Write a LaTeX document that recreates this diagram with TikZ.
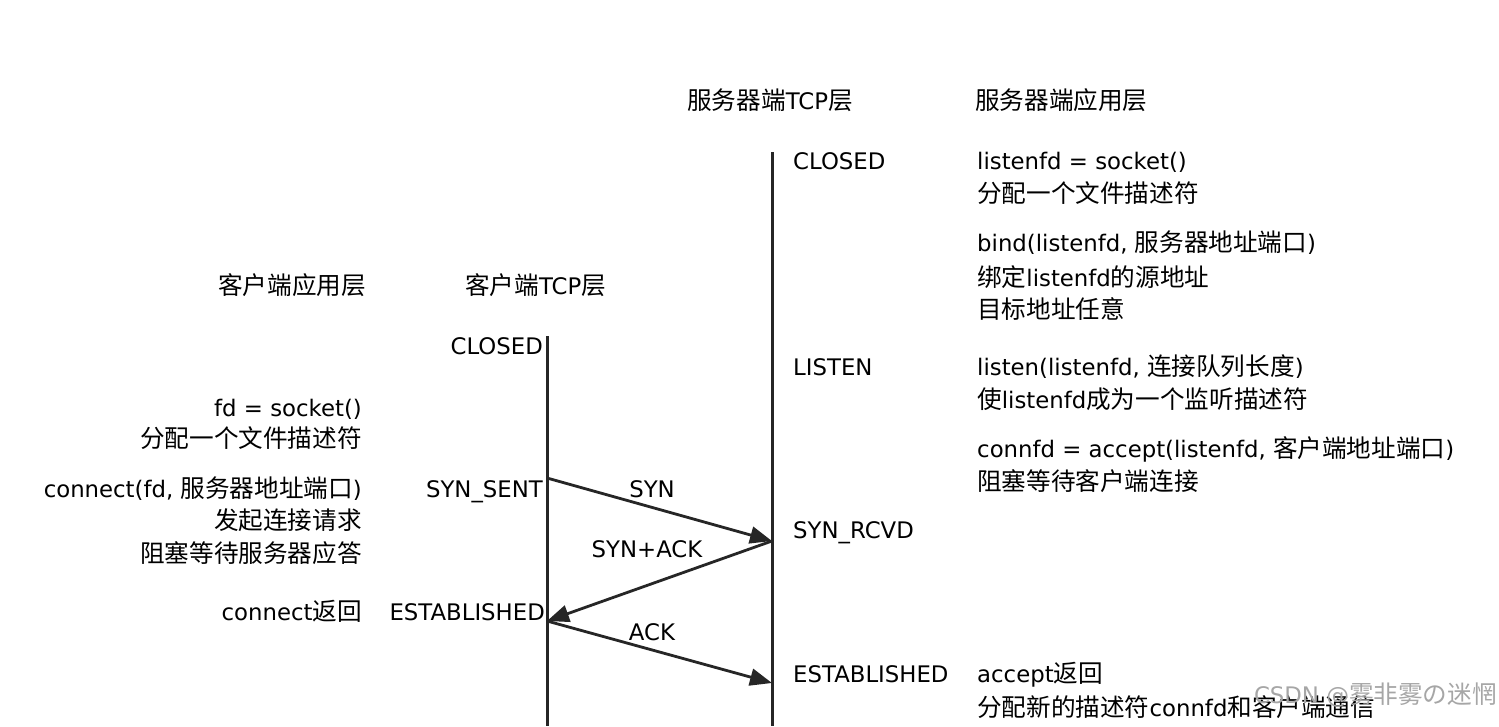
\documentclass[tikz,border=0pt]{standalone}
\usepackage{fontspec}
\setmainfont{DejaVu Sans}
\newfontfamily\cjk[Scale=1.08]{Noto Sans CJK SC}
\newcommand\zh[1]{{\cjk #1}}
\usetikzlibrary{arrows.meta}
\begin{document}
\begin{tikzpicture}[x=1pt,y=-1pt,
  txt/.style={inner sep=0pt,text height=17pt,text depth=5pt,font=\fontsize{22.8}{27}\selectfont},
  lt/.style={txt,anchor=west},
  rt/.style={txt,anchor=east},
  ct/.style={txt,anchor=center},
  life/.style={line width=3pt,black!85},
  msg/.style={line width=2.8pt,black!85,-{Triangle[length=22pt,width=17pt]}}]
\useasboundingbox (0,0) rectangle (1499,726);
% headers
\node[ct] (hst) at (770,103) {\zh{服务器端}TCP\zh{层}};
\node[lt] (hsa) at (975,103) {\zh{服务器端应用层}};
\node[lt] (hca) at (218,288) {\zh{客户端应用层}};
\node[lt] (hct) at (465,288) {\zh{客户端}TCP\zh{层}};
% lifelines
\coordinate (stop) at (772,152);
\coordinate (sbot) at (772,726);
\coordinate (ctop) at (547,336);
\coordinate (cbot) at (547,726);
\draw[life] (stop) -- (sbot);
\draw[life] (ctop) -- (cbot);
% server states
\node[lt] (sclosed) at (793,163) {CLOSED};
\node[lt] (slisten) at (793,369) {LISTEN};
\node[lt] (srcvd) at (793,532) {SYN\_RCVD};
\node[lt] (sest) at (793,676) {ESTABLISHED};
% server app
\node[lt] (a1) at (977,163) {listenfd = socket()};
\node[lt] (a2) at (977,196) {\zh{分配一个文件描述符}};
\node[lt] (a3) at (977,245) {bind(listenfd, \zh{服务器地址端口})};
\node[lt] (a4) at (977,280) {\zh{绑定}listenfd\zh{的源地址}};
\node[lt] (a5) at (977,312) {\zh{目标地址任意}};
\node[lt] (a6) at (977,369) {listen(listenfd, \zh{连接队列长度})};
\node[lt] (a7) at (977,402) {\zh{使}listenfd\zh{成为一个监听描述符}};
\node[lt] (a8) at (977,451) {connfd = accept(listenfd, \zh{客户端地址端口})};
\node[lt] (a9) at (977,484) {\zh{阻塞等待客户端连接}};
\node[lt] (a10) at (977,676) {accept\zh{返回}};
\node[lt] (a11) at (977,710) {\zh{分配新的描述符}connfd\zh{和客户端通信}};
% client states
\node[rt] (cclosed) at (543,348) {CLOSED};
\node[rt] (csent) at (543,491) {SYN\_SENT};
\node[rt] (cest) at (545,614) {ESTABLISHED};
% client app
\node[rt] (b1) at (362,410) {fd = socket()};
\node[rt] (b2) at (362,441) {\zh{分配一个文件描述符}};
\node[rt] (b3) at (362,491) {connect(fd, \zh{服务器地址端口})};
\node[rt] (b4) at (362,523) {\zh{发起连接请求}};
\node[rt] (b5) at (362,556) {\zh{阻塞等待服务器应答}};
\node[rt] (b6) at (362,614) {connect\zh{返回}};
% messages
\coordinate (m1s) at (547,478);
\coordinate (m1e) at (772,541);
\coordinate (m2e) at (547,621);
\coordinate (m3e) at (772,683);
\draw[msg] (m1s) -- (m1e);
\draw[msg] (m1e) -- (m2e);
\draw[msg] (m2e) -- (m3e);
\node[ct] (lsyn) at (652,491) {SYN};
\node[ct] (lsynack) at (647,551) {SYN+ACK};
\node[ct] (lack) at (652,634) {ACK};
% watermark
\node[txt,anchor=east,text=black!35] (wm) at (1497,697) {CSDN @\zh{雾非雾の迷惘}};
\end{tikzpicture}
\end{document}
